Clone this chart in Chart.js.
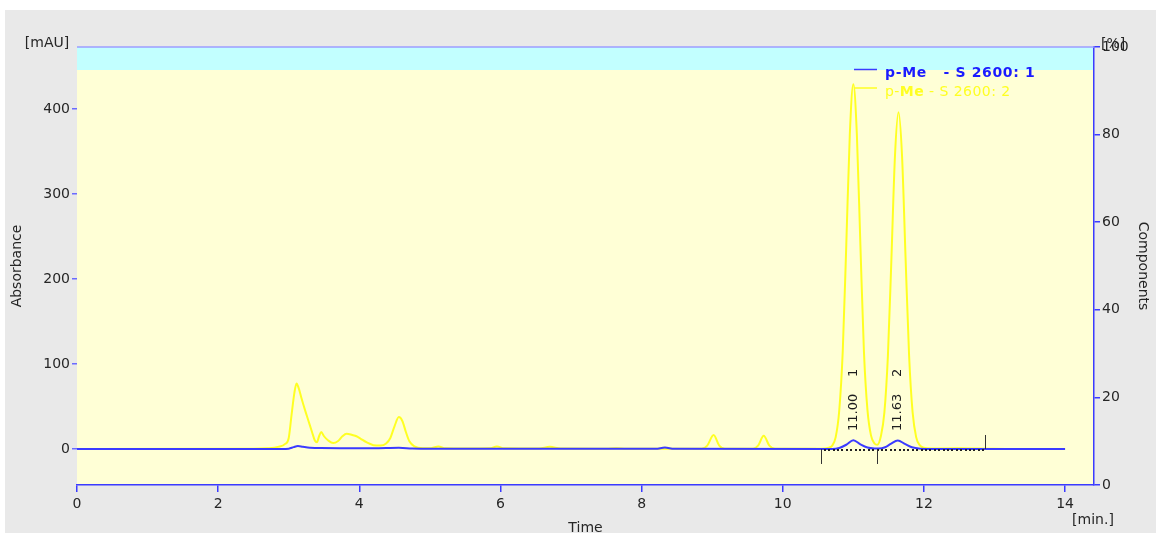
<!DOCTYPE html>
<html>
<head>
<meta charset="utf-8">
<script src="https://cdn.jsdelivr.net/npm/chart.js@4/dist/chart.umd.min.js"></script>
<style>
  html, body { margin: 0; padding: 0; background: #ffffff; }
  #c { display: block; }
</style>
</head>
<body>
<canvas id="c" width="1156" height="533"></canvas>
<script>
// Chromatogram traces: retention time [min] and absorbance [mAU]
const timeS1 = [0, 2.9, 3.0, 3.07, 3.13, 3.2, 3.3, 3.45, 3.8, 4.2, 4.56, 4.75, 5.0, 8.2, 8.33, 8.46,
  10.7, 10.8, 10.9, 11.0, 11.1, 11.2, 11.3, 11.36, 11.45, 11.53, 11.63, 11.73, 11.83, 11.95, 12.1, 14];
const mauS1 = [0, 0, 0.4, 2.2, 3.4, 2.6, 1.6, 1.1, 1.0, 0.8, 1.4, 0.6, 0.3, 0.2, 1.8, 0.2,
  0.1, 1.2, 5, 10.3, 5.5, 1.8, 0.6, 0.5, 2, 6, 10, 6, 2, 0.4, 0.1, 0];

const timeS2 = [0, 2.5, 2.7, 2.85, 2.95, 3.0, 3.04, 3.08, 3.11, 3.14, 3.18, 3.23, 3.28, 3.33, 3.37,
  3.4, 3.43, 3.46, 3.5, 3.56, 3.63, 3.7, 3.76, 3.82, 3.9, 3.96, 4.02, 4.1, 4.2, 4.3, 4.38, 4.44,
  4.5, 4.56, 4.61, 4.66, 4.71, 4.78, 4.9, 5.02, 5.12, 5.22, 5.5, 5.85, 5.95, 6.05, 6.55, 6.7, 6.85,
  7.5, 7.64, 7.78, 8.85, 8.93, 9.02, 9.1, 9.18, 9.58, 9.65, 9.73, 9.81, 9.89, 10.55, 10.65, 10.7,
  10.75, 10.8, 10.85, 10.9, 10.95, 11.0, 11.05, 11.1, 11.15, 11.2, 11.25, 11.3, 11.34, 11.39, 11.44,
  11.49, 11.54, 11.59, 11.64, 11.69, 11.74, 11.79, 11.84, 11.89, 11.94, 12.0, 12.1, 12.5, 12.9, 13.2, 14];
const mauS2 = [0, 0.2, 0.8, 2.5, 6, 13, 40, 66, 77, 72, 60, 46, 33, 20, 10,
  8, 15, 20, 15, 10, 7, 9.5, 15, 18, 16.5, 15, 12, 8, 4.5, 4, 6.5, 13,
  27, 37.5, 33, 20, 9, 3, 1, 1, 3, 0.8, 0.6, 0.8, 3, 0.8, 0.6, 2.6, 0.6,
  0.4, 1, 0.3, 0.2, 4, 16.5, 4, 0.3, 0.3, 4, 15.5, 4, 0.3, 0.3, 1.5, 4,
  14, 45, 115, 240, 370, 429, 370, 240, 115, 46, 16, 6.5, 5, 15, 43,
  110, 225, 345, 396, 345, 225, 110, 43, 14, 4.5, 1.5, 0.6, 0.8, 0.3, 0, 0];

// Axis ticks
const timeTicks = [0, 2, 4, 6, 8, 10, 12, 14];
const mauTicks = [0, 100, 200, 300, 400];
const pctTicks = [0, 20, 40, 60, 80, 100];

// Integrated peaks
const peakTimes = [11.00, 11.63];
const peakTimeLabels = ['11.00', '11.63'];
const peakNumbers = ['1', '2'];
const baselineMarks = [10.54, 11.34, 12.87]; // start, split, end of integration

const seriesNames = ['p-Me   - S 2600: 1', 'p-Me - S 2600: 2'];

const BLUE = '#3b3bff';
const YELLOW = '#ffff22';
const TEXT = '#262626';
const FONT = '"DejaVu Sans", Verdana, sans-serif';

const toPoints = (ts, vs) => ts.map((t, i) => ({ x: t, y: vs[i] }));

const frame = {
  id: 'frame',
  beforeDraw(chart) {
    const { ctx, chartArea: a } = chart;
    ctx.save();
    ctx.fillStyle = '#ffffff';
    ctx.fillRect(0, 0, chart.width, chart.height);
    ctx.fillStyle = '#e9e9e9';
    ctx.fillRect(5, 10, chart.width - 5, chart.height - 10);
    ctx.fillStyle = '#ffffd6';
    ctx.fillRect(a.left, a.top, a.right - a.left, a.bottom - a.top);
    ctx.fillStyle = '#c2ffff';
    ctx.fillRect(a.left, a.top, a.right - a.left, 23);
    ctx.restore();
  },
  afterDatasetsDraw(chart) {
    const { ctx, chartArea: a, scales } = chart;
    const xs = scales.x, ys = scales.y;
    const y0 = ys.getPixelForValue(0);
    ctx.save();

    // integration baseline and marks
    ctx.fillStyle = '#222';
    const xStart = xs.getPixelForValue(baselineMarks[0]);
    const xEnd = xs.getPixelForValue(baselineMarks[baselineMarks.length - 1]);
    for (let px = xStart + 3; px < xEnd - 2; px += 4.4) {
      ctx.fillRect(Math.round(px), Math.round(y0), 2, 2);
    }
    ctx.strokeStyle = '#333';
    ctx.lineWidth = 1;
    baselineMarks.forEach((t, i) => {
      const px = Math.round(xs.getPixelForValue(t)) + 0.5;
      ctx.beginPath();
      if (i === baselineMarks.length - 1) {
        ctx.moveTo(px, y0); ctx.lineTo(px, y0 - 14);
      } else {
        ctx.moveTo(px, y0); ctx.lineTo(px, y0 + 15);
      }
      ctx.stroke();
    });

    // peak annotations
    ctx.fillStyle = '#1e1e1e';
    ctx.font = '13px ' + FONT;
    ctx.textBaseline = 'middle';
    ctx.textAlign = 'left';
    peakTimes.forEach((t, i) => {
      const px = xs.getPixelForValue(t);
      ctx.save();
      ctx.translate(px, y0 - 18);
      ctx.rotate(-Math.PI / 2);
      ctx.fillText(peakTimeLabels[i], 0, 0);
      ctx.fillText(peakNumbers[i], 54, 0);
      ctx.restore();
    });

    // top frame line
    ctx.strokeStyle = '#9c9cff';
    ctx.lineWidth = 1.5;
    ctx.beginPath();
    ctx.moveTo(a.left, a.top);
    ctx.lineTo(a.right, a.top);
    ctx.stroke();

    // legend
    const lx = a.right - 240;
    ctx.lineWidth = 1.5;
    ctx.strokeStyle = BLUE;
    ctx.beginPath(); ctx.moveTo(lx, a.top + 22.5); ctx.lineTo(lx + 23, a.top + 22.5); ctx.stroke();
    ctx.strokeStyle = YELLOW;
    ctx.beginPath(); ctx.moveTo(lx, a.top + 41); ctx.lineTo(lx + 23, a.top + 41); ctx.stroke();

    ctx.textBaseline = 'alphabetic';
    ctx.fillStyle = '#1c1cff';
    ctx.font = 'bold 14px ' + FONT;
    ctx.letterSpacing = '0.65px';
    ctx.fillText(seriesNames[0], lx + 31, a.top + 30);

    ctx.fillStyle = YELLOW;
    ctx.letterSpacing = '0.45px';
    let tx = lx + 31;
    const ty = a.top + 49;
    const parts = [['p-', '14px '], ['Me', 'bold 14px '], [seriesNames[1].slice(4), '14px ']];
    parts.forEach(([s, f]) => {
      ctx.font = f + FONT;
      ctx.fillText(s, tx, ty);
      tx += ctx.measureText(s).width;
    });
    ctx.letterSpacing = '0px';

    // axis titles and units
    ctx.fillStyle = TEXT;
    ctx.font = '14px ' + FONT;
    ctx.textAlign = 'center';
    ctx.textBaseline = 'middle';
    const midY = (a.top + a.bottom) / 2;
    ctx.save();
    ctx.translate(17, midY);
    ctx.rotate(-Math.PI / 2);
    ctx.fillText('Absorbance', 0, 0);
    ctx.restore();
    ctx.save();
    ctx.translate(1143, midY);
    ctx.rotate(Math.PI / 2);
    ctx.fillText('Components', 0, 0);
    ctx.restore();
    ctx.fillText('[mAU]', 47, 43);
    ctx.fillText('[min.]', 1093, 520);
    ctx.textBaseline = 'top';
    ctx.fillText('Time', (a.left + a.right) / 2, 521);
    ctx.textAlign = 'left';
    ctx.textBaseline = 'middle';
    ctx.fillText('[%]', 1101, 44);
    ctx.restore();
  }
};

const tickFont = { family: FONT, size: 14 };

new Chart(document.getElementById('c').getContext('2d'), {
  type: 'line',
  data: {
    datasets: [
      {
        label: seriesNames[0],
        data: toPoints(timeS1, mauS1),
        borderColor: BLUE,
        borderWidth: 2,
        pointRadius: 0,
        cubicInterpolationMode: 'monotone',
        yAxisID: 'y'
      },
      {
        label: seriesNames[1],
        data: toPoints(timeS2, mauS2),
        borderColor: YELLOW,
        borderWidth: 2,
        pointRadius: 0,
        cubicInterpolationMode: 'monotone',
        yAxisID: 'y'
      }
    ]
  },
  options: {
    responsive: false,
    animation: false,
    devicePixelRatio: 1,
    layout: { padding: { left: 5, top: 47, right: 0, bottom: 0 } },
    plugins: { legend: { display: false }, tooltip: { enabled: false } },
    scales: {
      x: {
        type: 'linear',
        min: 0,
        max: 14.41,
        afterBuildTicks: s => { s.ticks = timeTicks.map(v => ({ value: v })); },
        afterFit: s => { s.height = 48; },
        ticks: { font: tickFont, color: TEXT, padding: 4, maxRotation: 0, autoSkip: false },
        grid: { drawOnChartArea: false, drawTicks: true, tickLength: 7, color: BLUE, lineWidth: 1.5 },
        border: { display: true, color: BLUE, width: 1.5 }
      },
      y: {
        type: 'linear',
        position: 'left',
        min: -42.35,
        max: 472.9,
        afterBuildTicks: s => { s.ticks = mauTicks.map(v => ({ value: v })); },
        afterFit: s => { s.width = 72; },
        ticks: { font: tickFont, color: TEXT, padding: 2 },
        grid: { drawOnChartArea: false, drawTicks: true, tickLength: 5, color: '#6a6aff', lineWidth: 1.5 },
        border: { display: false }
      },
      y2: {
        type: 'linear',
        position: 'right',
        min: 0,
        max: 100,
        afterBuildTicks: s => { s.ticks = pctTicks.map(v => ({ value: v })); },
        afterFit: s => { s.width = 62; },
        ticks: { font: tickFont, color: TEXT, padding: 2 },
        grid: { drawOnChartArea: false, drawTicks: true, tickLength: 6, color: BLUE, lineWidth: 1.5 },
        border: { display: true, color: BLUE, width: 1.5 }
      }
    }
  },
  plugins: [frame]
});
</script>
</body>
</html>
